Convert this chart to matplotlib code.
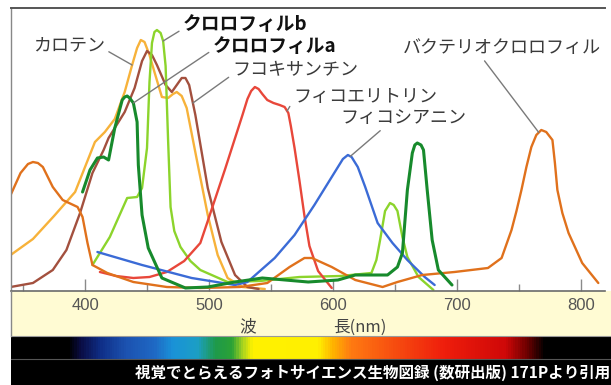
import numpy as np
import matplotlib.pyplot as plt
from matplotlib.colors import LinearSegmentedColormap
from matplotlib.patches import Rectangle
from matplotlib.lines import Line2D
from matplotlib.ticker import MultipleLocator

plt.rcParams['font.family'] = ['Noto Sans CJK JP', 'DejaVu Sans']

# absorption spectra: wavelength (nm) and relative absorbance (arbitrary units)
carotene_nm = [340, 358, 375, 392, 400, 408, 416, 424, 432, 438, 442, 445, 448, 452,
               456, 462, 467, 471, 474, 478, 482, 491, 499, 507, 515, 527, 545]
carotene = [36, 52, 75, 99, 124, 149, 159, 172, 199, 226, 243, 251, 249, 236,
            219, 194, 193, 197, 199, 195, 183, 126, 76, 36, 13, 4, 2]

fuco_nm = [340, 358, 374, 385, 396, 406, 415, 419, 432, 440, 446, 450, 454, 458,
           465, 470, 474, 478, 481, 484, 489, 499, 510, 521, 531, 540]
fuco = [4, 8, 21, 41, 78, 118, 141, 153, 179, 203, 230, 240, 236, 226,
        206, 199, 206, 213, 213, 206, 176, 103, 49, 16, 4, 2]

chlb_nm = [406, 420, 434, 442, 446, 450, 452, 454, 456, 458, 461, 463, 465, 467,
           469, 472, 477, 485, 493, 515, 541, 573, 606, 631, 635, 638, 642, 646,
           649, 652, 656, 660, 669, 681]
chlb = [26, 54, 93, 94, 103, 143, 209, 248, 259, 261, 258, 250, 225, 151,
        84, 60, 44, 30, 21, 9, 10, 14, 15, 18, 31, 51, 80, 88,
        86, 80, 54, 34, 14, 1]

chla_nm = [398, 404, 410, 415, 419, 424, 430, 432, 434, 436, 439, 442, 443, 446,
           451, 462, 481, 499, 521, 543, 580, 604, 618, 644, 652, 656, 660, 664,
           666, 668, 671, 673, 676, 680, 685, 696]
chla = [99, 121, 133, 134, 131, 163, 191, 194, 195, 193, 188, 169, 126, 76,
        43, 13, 3, 4, 9, 13, 9, 11, 16, 16, 24, 38, 101, 138,
        146, 148, 146, 141, 101, 51, 21, 6]

pe_nm = [412, 425, 439, 452, 466, 480, 493, 499, 513, 527, 531, 534, 537, 540,
         543, 547, 552, 557, 561, 564, 566, 569, 573, 577, 581, 588, 599]
pe = [19, 15, 13, 14, 19, 30, 48, 70, 122, 176, 192, 200, 204, 202,
      197, 191, 188, 186, 184, 178, 165, 143, 110, 75, 45, 20, 3]

pc_nm = [410, 446, 486, 521, 531, 553, 569, 585, 591, 604, 608, 612, 615, 620,
         626, 636, 648, 660, 674, 682]
pc = [39, 26, 13, 6, 9, 33, 56, 86, 98, 124, 132, 136, 134, 124,
      104, 68, 48, 31, 14, 6]

bchl_nm = [340, 348, 354, 358, 362, 366, 374, 382, 394, 398, 402, 406, 418, 439,
           466, 493, 525, 547, 565, 577, 583, 599, 618, 640, 652, 672, 698, 725,
           736, 744, 748, 752, 756, 760, 764, 768, 772, 777, 779, 781, 785, 790,
           801, 814]
bchl = [96, 118, 127, 129, 128, 124, 104, 91, 84, 74, 48, 26, 18, 9,
        4, 3, 4, 8, 24, 33, 33, 24, 11, 4, 9, 16, 19, 23,
        33, 61, 80, 101, 124, 144, 156, 161, 159, 151, 128, 101, 78, 58,
        28, 8]

wl_ticks = [400, 500, 600, 700, 800]

# visible spectrum strip: (wavelength, colour)
spectrum_stops = [
    (340, '#000000'), (386, '#000000'), (396, '#0a0d45'), (412, '#0f2f88'),
    (432, '#1c52b0'), (455, '#1f68c4'), (470, '#1a92d8'), (490, '#1c9fc6'),
    (505, '#1f9a4a'), (518, '#2ba236'), (527, '#a8d420'), (535, '#fff200'),
    (588, '#fff000'), (600, '#ffb400'), (615, '#ff7a12'), (650, '#f74d10'),
    (690, '#ef1e0c'), (740, '#cf0808'), (758, '#6a0000'), (772, '#000000'),
    (825, '#000000'),
]

W, H = 611, 385
fig = plt.figure(figsize=(W / 100, H / 100), dpi=100)


def px_box(x0, y0, x1, y1):
    return [x0 / W, 1 - y1 / H, (x1 - x0) / W, (y1 - y0) / H]


# pale band behind the wavelength labels
fig.patches.append(Rectangle((11 / W, 1 - 336 / H), 600 / W, 45 / H,
                             transform=fig.transFigure, facecolor='#fffbd3',
                             edgecolor='none', zorder=-1))
fig.lines.append(Line2D([11 / W, 11 / W], [1 - 336 / H, 1 - 291 / H],
                        transform=fig.transFigure, color='#888888', lw=1))
fig.lines.append(Line2D([11 / W, 1], [1 - 336 / H, 1 - 336 / H],
                        transform=fig.transFigure, color='#9a9a9a', lw=0.8))

ax = fig.add_axes(px_box(11, 8, 605, 291))
ax.set_xlim(340.3, 819.4)
ax.set_ylim(0, 283)
ax.set_yticks([])
ax.set_xticks(wl_ticks)
ax.xaxis.set_minor_locator(MultipleLocator(100, offset=50))
ax.tick_params(which='major', direction='in', length=9, width=1, color='#8a8a8a',
               labelsize=12, labelcolor='#555555', pad=5)
ax.tick_params(which='minor', direction='in', length=5, width=1, color='#8a8a8a')
plt.setp(ax.get_xticklabels(), family='Liberation Sans')

ax.spines['right'].set_visible(False)
ax.spines['top'].set_color('#555555')
ax.spines['top'].set_linewidth(1.4)
ax.spines['left'].set_color('#888888')
ax.spines['left'].set_linewidth(1)
ax.spines['bottom'].set_color('#6a6a6a')
ax.spines['bottom'].set_linewidth(1.2)

line_kw = dict(lw=1.7, solid_joinstyle='round', solid_capstyle='round')
ax.plot(carotene_nm, carotene, color='#f7b23a', **line_kw)
ax.plot(fuco_nm, fuco, color='#a3503e', **line_kw)
ax.plot(chlb_nm, chlb, color='#8cd42c', **line_kw)
ax.plot(pe_nm, pe, color='#e8473a', **line_kw)
ax.plot(pc_nm, pc, color='#3b6bd6', **line_kw)
ax.plot(bchl_nm, bchl, color='#e0711c', **line_kw)
ax.plot(chla_nm, chla, color='#178a2c', lw=2.2, solid_joinstyle='round',
        solid_capstyle='round')


def label(text, nm, vals, at_nm, xytext, relpos, ha, bold=False):
    y = float(np.interp(at_nm, nm, vals))
    ax.annotate(text, xy=(at_nm, y), xytext=xytext, textcoords='data',
                ha=ha, va='center', fontsize=13.5 if bold else 13,
                fontweight='bold' if bold else 'normal',
                color='#111111' if bold else '#3a3a3a',
                arrowprops=dict(arrowstyle='-', color='#7a7a7a', lw=1,
                                relpos=relpos, shrinkA=1, shrinkB=0))


label('カロテン', carotene_nm, carotene, 438, (416, 246), (1.0, 0.25), 'right')
label('クロロフィルb', chlb_nm, chlb, 463, (479, 266), (0.0, 0.3), 'left', bold=True)
label('クロロフィルa', chla_nm, chla, 439, (503, 245), (0.0, 0.3), 'left', bold=True)
label('フコキサンチン', fuco_nm, fuco, 487, (519, 221), (0.0, 0.25), 'left')
label('フィコエリトリン', pe_nm, pe, 563, (568, 194), (0.0, 0.3), 'left')
label('フィコシアニン', pc_nm, pc, 614, (606, 173), (0.35, 0.0), 'left')
label('バクテリオクロロフィル', bchl_nm, bchl, 766, (656, 243), (0.4, 0.0), 'left')

fig.text(248 / W, 1 - 327 / H, '波', fontsize=12, color='#444444',
         ha='center', va='center')
fig.text(333 / W, 1 - 327 / H, '長(nm)', fontsize=12, color='#444444',
         ha='left', va='center')

# spectrum strip, on the same wavelength scale as the plot
sax = fig.add_axes(px_box(11, 336, 611, 359))
lo, hi = 340.3, 824.2
spec_cmap = LinearSegmentedColormap.from_list(
    'spectrum', [((w - spectrum_stops[0][0]) / (spectrum_stops[-1][0] - spectrum_stops[0][0]), c)
                 for w, c in spectrum_stops])
wl = np.linspace(lo, hi, 600)
sax.imshow(wl[None, :], aspect='auto', extent=(lo, hi, 0, 1), cmap=spec_cmap,
           vmin=spectrum_stops[0][0], vmax=spectrum_stops[-1][0], interpolation='bilinear')
sax.set_xlim(lo, hi)
sax.axis('off')

# source line
fig.patches.append(Rectangle((11 / W, 0), 600 / W, 26 / H, transform=fig.transFigure,
                             facecolor='#000000', edgecolor='none', zorder=-1))
fig.lines.append(Line2D([11 / W, 1], [26 / H, 26 / H], transform=fig.transFigure,
                        color='#555555', lw=0.8))
fig.text(135 / W, 12 / H, '視覚でとらえるフォトサイエンス生物図録 (数研出版) 171Pより引用',
         fontsize=11.2, fontweight='bold', color='white', ha='left', va='center')

fig.savefig('out.png', dpi=100, facecolor='white')
